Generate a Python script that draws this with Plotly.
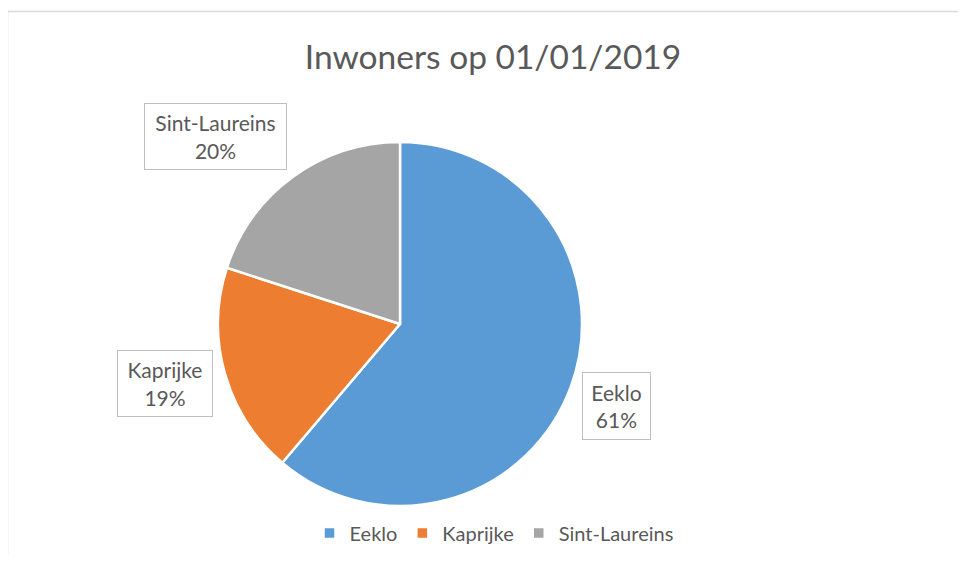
import plotly.graph_objects as go

# Data (share of inhabitants, %)
categories = ["Eeklo", "Kaprijke", "Sint-Laureins"]
values = [61.2, 18.8, 20.0]
colors = ["#5B9BD5", "#ED7D31", "#A5A5A5"]
title_text = "Inwoners op 01/01/2019"

# page body has an 8px margin; figure sized to fit the window
OFF = 8
W, H = 966 - 2 * OFF, 562 - 2 * OFF
FONT = "Lato, 'Open Sans', sans-serif"
TXT = "#595959"


def px(x):
    return (x - OFF) / W


def py(y):
    return 1 - (y - OFF) / H


# pie geometry (window pixels)
cx, cy, r = 400, 324, 182

fig = go.Figure()
fig.add_trace(go.Pie(
    labels=categories,
    values=values,
    sort=False,
    direction="clockwise",
    rotation=0,
    textinfo="none",
    hoverinfo="label+percent",
    marker=dict(colors=colors, line=dict(color="white", width=2.5)),
    domain=dict(x=[px(cx - r), px(cx + r)],
                y=[py(cy + r), py(cy - r)]),
))

# data label boxes (window pixel boxes: x0, y0, x1, y1)
boxes = {
    "Eeklo": (582, 372, 651, 440),
    "Kaprijke": (117, 350, 213, 417),
    "Sint-Laureins": (144, 103, 287, 170),
}
total = sum(values)
annotations = []
for cat, v in zip(categories, values):
    x0, y0, x1, y1 = boxes[cat]
    annotations.append(dict(
        x=px((x0 + x1) / 2), y=py((y0 + y1) / 2),
        xref="paper", yref="paper", xanchor="center", yanchor="middle",
        text=f"{cat}<br>{round(v / total * 100)}%",
        showarrow=False,
        font=dict(family=FONT, size=21, color=TXT),
        bgcolor="white", bordercolor="#BFBFBF", borderwidth=1, borderpad=0,
        width=x1 - x0 - 2, height=y1 - y0 - 2, align="center",
    ))

fig.update_layout(
    width=W, height=H,
    margin=dict(l=0, r=0, t=0, b=0),
    paper_bgcolor="white", plot_bgcolor="white",
    title=dict(text=title_text, x=px(493), xanchor="center",
               y=py(57), yanchor="middle",
               font=dict(family=FONT, size=33.5, color=TXT)),
    legend=dict(orientation="h", x=px(494), xanchor="center",
                y=py(533), yanchor="middle",
                font=dict(family=FONT, size=20, color=TXT),
                itemwidth=30, tracegroupgap=0),
    annotations=annotations,
    shapes=[dict(type="rect", xref="paper", yref="paper",
                 x0=px(7.5), x1=1.05, y0=-0.05, y1=py(11.5),
                 line=dict(color="#D9D9D9", width=1.5), layer="below")],
)

fig.write_html("out.html")
